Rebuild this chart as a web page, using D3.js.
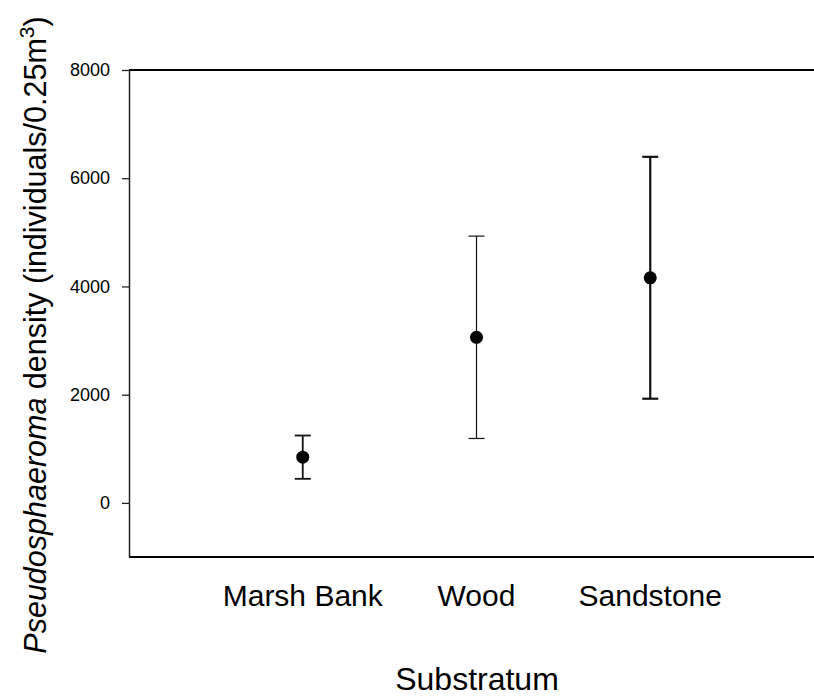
<!DOCTYPE html>
<html>
<head>
<meta charset="utf-8">
<script src="https://cdn.jsdelivr.net/npm/d3@7"></script>
<style>
  html, body { margin: 0; padding: 0; background: #fff; }
  svg { display: block; font-family: Arial, "Liberation Sans", Helvetica, sans-serif; }
</style>
</head>
<body>
<svg id="chart" width="814" height="696"></svg>
<script>
// Mean density per substratum with its error half-width
const categories = ["Marsh Bank", "Wood", "Sandstone"];
const means = [845, 3060, 4160];
const errors = [400, 1870, 2235];
const yTicks = [0, 2000, 4000, 6000, 8000];

const barWidths = [1.8, 1.2, 2.2];

const svg = d3.select("#chart");
const plotLeft = 129, plotTop = 70, plotBottom = 557, plotRight = 824;

const x = d3.scaleLinear().domain([0, categories.length + 1]).range([plotLeft, plotRight]);
const y = d3.scaleLinear().domain([-1000, 8000]).range([plotBottom, plotTop]);

// Frame: top and bottom lines, left axis
svg.append("line").attr("x1", plotLeft).attr("x2", 814).attr("y1", y(8000)).attr("y2", y(8000))
  .attr("stroke", "#000").attr("stroke-width", 2);
svg.append("line").attr("x1", plotLeft).attr("x2", 814).attr("y1", y(-1000)).attr("y2", y(-1000))
  .attr("stroke", "#000").attr("stroke-width", 2);

const yAxis = svg.append("g")
  .attr("transform", `translate(${plotLeft},0)`)
  .call(d3.axisLeft(y).tickValues(yTicks).tickSizeInner(7).tickSizeOuter(0)
    .tickPadding(12).tickFormat(d3.format("d")));
yAxis.select(".domain").attr("stroke", "#222").attr("stroke-width", 1.5);
yAxis.selectAll(".tick line").attr("stroke", "#222").attr("stroke-width", 1.3);
yAxis.selectAll(".tick text").attr("font-size", 18).attr("fill", "#000")
  .attr("font-family", "Arial, 'Liberation Sans', sans-serif");

// Category labels
svg.append("g").selectAll("text").data(categories).join("text")
  .attr("x", (d, i) => x(i + 1))
  .attr("y", 606)
  .attr("text-anchor", "middle")
  .attr("font-size", 30)
  .text(d => d);

// Error bars
const g = svg.append("g");
categories.forEach((c, i) => {
  const cx = x(i + 1);
  const lo = y(means[i] - errors[i]);
  const hi = y(means[i] + errors[i]);
  const sw = barWidths[i];
  g.append("line").attr("x1", cx).attr("x2", cx).attr("y1", lo).attr("y2", hi)
    .attr("stroke", "#111").attr("stroke-width", sw);
  [lo, hi].forEach(yy => {
    g.append("line").attr("x1", cx - 8).attr("x2", cx + 8).attr("y1", yy).attr("y2", yy)
      .attr("stroke", "#111").attr("stroke-width", sw);
  });
});

// Mean markers
svg.append("g").selectAll("circle").data(means).join("circle")
  .attr("cx", (d, i) => x(i + 1))
  .attr("cy", d => y(d))
  .attr("r", 6.5)
  .attr("fill", "#000");

// Axis titles
svg.append("text")
  .attr("x", 477).attr("y", 690)
  .attr("text-anchor", "middle")
  .attr("font-size", 32)
  .text("Substratum");

const yt = svg.append("text")
  .attr("transform", "translate(46,335) rotate(-90)")
  .attr("text-anchor", "middle")
  .attr("font-size", 30.5);
yt.append("tspan").attr("font-style", "italic").text("Pseudosphaeroma");
yt.append("tspan").text(" density (individuals/0.25m");
yt.append("tspan").attr("font-size", 21).attr("dy", -12).text("3");
yt.append("tspan").attr("dy", 12).text(")");
</script>
</body>
</html>
